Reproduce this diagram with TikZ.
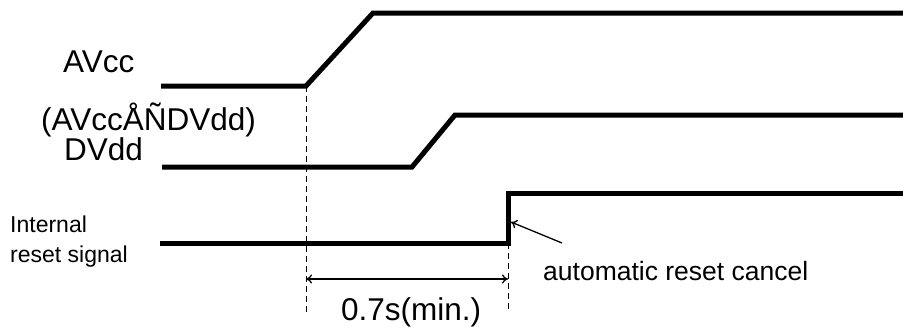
\documentclass[tikz,border=0pt]{standalone}
\usepackage{fontspec}
\setmainfont{Liberation Sans}
\usetikzlibrary{arrows.meta,positioning}
\tikzset{
    wave/.style={line width=5pt, line join=miter},
    guide/.style={line width=0.9pt, dash pattern=on 6pt off 4pt},
    big/.style={font=\fontsize{31.5}{36}\selectfont, inner sep=0pt, anchor=base west},
    small/.style={font=\fontsize{23}{30}\selectfont, inner sep=0pt, anchor=base west},
    note/.style={font=\fontsize{26.5}{32}\selectfont, inner sep=0pt, anchor=base west},
    tip/.style={line width=1.3pt, -{To[length=6pt,width=9pt]}},
    both/.style={line width=1.3pt, {To[length=6pt,width=9pt]}-{To[length=6pt,width=9pt]}},
}

\begin{document}
\begin{tikzpicture}[x=1pt,y=-1pt]
   \useasboundingbox (0,0) rectangle (903,327);
   % labels
   \node[big] (avcc) at (63,72) {AVcc};
   \node[big] (order) at (41,130) {(AVccÅÑDVdd)};
   \node[big] (dvdd) at (64,160) {DVdd};
   \node[small] (rst) at (10,232) {Internal};
   \node[small] (rst2) at (10,262) {reset signal};
   \node[big] (time) at (341,320) {0.7s(min.)};
   \node[note] (cancel) at (543,280) {automatic reset cancel};
   % corners
   \coordinate (a0) at (161,86);
   \coordinate (a1) at (306,86);
   \coordinate (a2) at (373,13);
   \coordinate (a3) at (903,13);
   \coordinate (d0) at (162,167);
   \coordinate (d1) at (412,167);
   \coordinate (d2) at (455,115);
   \coordinate (d3) at (903,115);
   \coordinate (r0) at (160,243);
   \coordinate (r1) at (508,243);
   \coordinate (r2) at (508,193);
   \coordinate (r3) at (903,193);
   \coordinate (g1) at (306,315);
   \coordinate (g2) at (508,310);
   \coordinate (m1) at (306,279);
   \coordinate (m2) at (508,279);
   \coordinate (n0) at (562,243);
   \coordinate (n1) at (511,222);
   % waveforms
   \draw[wave] (a0) -- (a1) -- (a2) -- (a3);
   \draw[wave] (d0) -- (d1) -- (d2) -- (d3);
   \draw[wave] (r0) -- (r1) -- (r2) -- (r3);
   % timing
   \draw[guide] (a1) -- (g1);
   \draw[guide] (r1) -- (g2);
   \draw[both] (m1) -- (m2);
   \draw[tip] (n0) -- (n1);
\end{tikzpicture}
\end{document}
